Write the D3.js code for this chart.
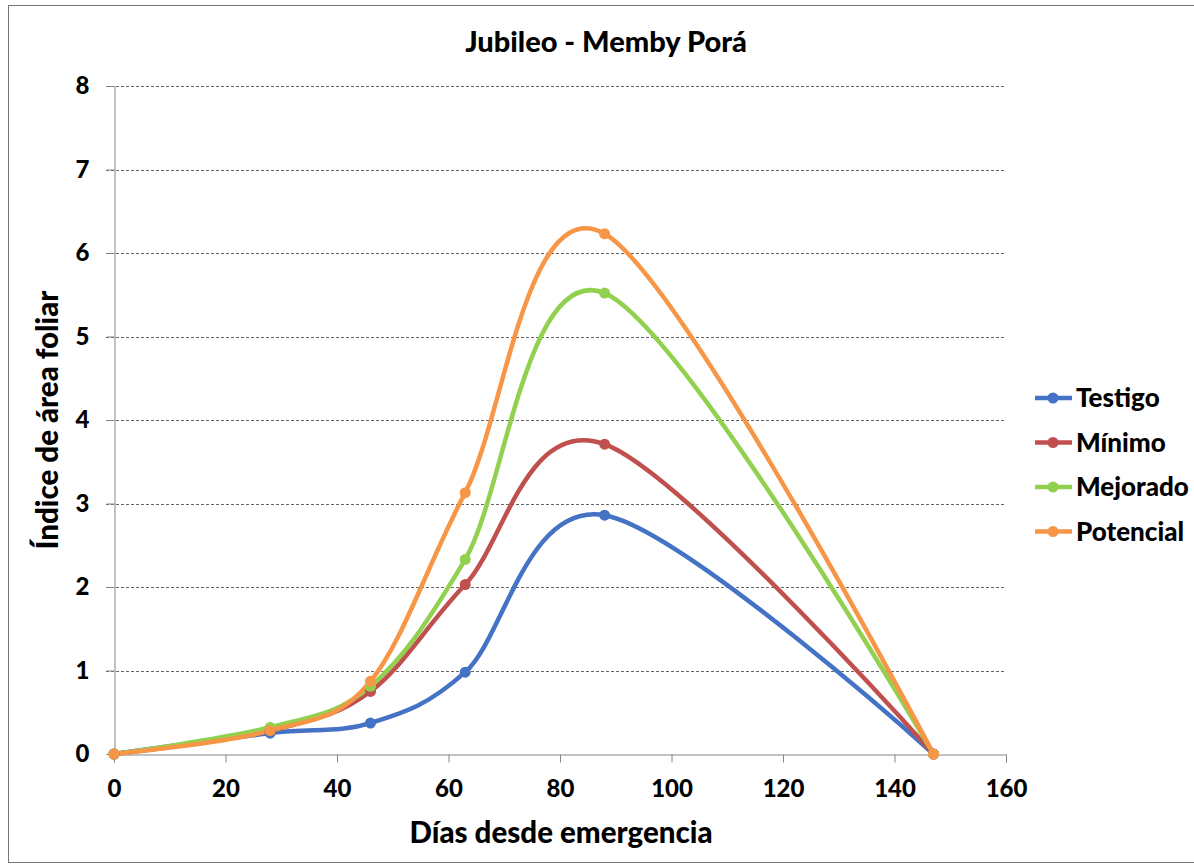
<!DOCTYPE html>
<html>
<head>
<meta charset="utf-8">
<script src="https://cdn.jsdelivr.net/npm/d3@7"></script>
<style>
  body { margin: 0; background: #fff; }
  text { font-family: Lato, "Open Sans", sans-serif; font-weight: 900; fill: #000; }
</style>
</head>
<body>
<svg width="1194" height="865"></svg>
<script>
const days = [0, 28, 46, 63, 88, 147];
const testigo = [0, 0.25, 0.37, 0.98, 2.86, 0];
const minimo = [0, 0.28, 0.75, 2.03, 3.71, 0];
const mejorado = [0, 0.32, 0.81, 2.33, 5.52, 0];
const potencial = [0, 0.28, 0.87, 3.13, 6.23, 0];
const seriesNames = ["Testigo", "Mínimo", "Mejorado", "Potencial"];
const xTicks = [0, 20, 40, 60, 80, 100, 120, 140, 160];
const yTicks = [0, 1, 2, 3, 4, 5, 6, 7, 8];

const colors = ["#4472C4", "#C0504D", "#92D050", "#F79646"];
const allSeries = [testigo, minimo, mejorado, potencial];

const svg = d3.select("svg");

// chart border
svg.append("rect")
  .attr("x", 8.5).attr("y", 5.5)
  .attr("width", 1190).attr("height", 857)
  .attr("fill", "none").attr("stroke", "#777").attr("stroke-width", 1);

// scales
const xScale = d3.scaleLinear().domain([0, 160]).range([114, 1006]);
const yScale = d3.scaleLinear().domain([0, 8]).range([754, 86]);

// gridlines
svg.append("g")
  .selectAll("line")
  .data(yTicks.slice(1))
  .enter()
  .append("line")
  .attr("x1", 106).attr("x2", xScale(160))
  .attr("y1", (d) => Math.round(yScale(d)) + 0.5)
  .attr("y2", (d) => Math.round(yScale(d)) + 0.5)
  .attr("stroke", "#666").attr("stroke-width", 1)
  .attr("stroke-dasharray", "3,2");

// y axis
const yAxis = d3.axisLeft(yScale).tickValues(yTicks).tickSize(8).tickPadding(17);
const yAxisG = svg.append("g").attr("transform", "translate(114.5,0)").call(yAxis);
yAxisG.select("path.domain").attr("stroke", "#868686");
yAxisG.selectAll(".tick line").attr("stroke", "#868686");
yAxisG.selectAll(".tick text").style("font-size", "24px").style("font-family", "Lato, sans-serif");

// x axis
const xAxis = d3.axisBottom(xScale).tickValues(xTicks).tickSize(8).tickPadding(17);
const xAxisG = svg.append("g").attr("transform", "translate(0,754.5)").call(xAxis);
xAxisG.select("path.domain").attr("stroke", "#868686");
xAxisG.selectAll(".tick line").attr("stroke", "#868686");
xAxisG.selectAll(".tick text").style("font-size", "24px").style("font-family", "Lato, sans-serif");

// lines
const line = d3.line()
  .x((d, i) => xScale(days[i]))
  .y((d) => yScale(d))
  .curve(d3.curveCatmullRom.alpha(0));

allSeries.forEach((values, k) => {
  svg.append("path")
    .datum(values)
    .attr("d", line)
    .attr("fill", "none")
    .attr("stroke", colors[k])
    .attr("stroke-width", 4.5)
    .attr("stroke-linejoin", "round");
});

allSeries.forEach((values, k) => {
  svg.append("g")
    .selectAll("circle")
    .data(values)
    .enter()
    .append("circle")
    .attr("r", 5.5)
    .attr("cx", (d, i) => xScale(days[i]))
    .attr("cy", (d) => yScale(d))
    .attr("fill", colors[k]);
});

// title
svg.append("text")
  .attr("x", 606).attr("y", 52)
  .attr("text-anchor", "middle")
  .style("font-size", "29px")
  .text("Jubileo - Memby Porá");

// axis titles
svg.append("text")
  .attr("x", 561).attr("y", 843)
  .attr("text-anchor", "middle")
  .style("font-size", "29.5px")
  .text("Días desde emergencia");

svg.append("text")
  .attr("transform", "translate(58,420) rotate(-90)")
  .attr("text-anchor", "middle")
  .style("font-size", "29.5px")
  .text("Índice de área foliar");

// legend
const legend = svg.append("g");
seriesNames.forEach((name, k) => {
  const y = 398 + k * 44.5;
  legend.append("line")
    .attr("x1", 1035).attr("x2", 1072)
    .attr("y1", y).attr("y2", y)
    .attr("stroke", colors[k]).attr("stroke-width", 4.5);
  legend.append("circle")
    .attr("cx", 1053).attr("cy", y).attr("r", 5.5)
    .attr("fill", colors[k]);
  legend.append("text")
    .attr("x", 1076).attr("y", y + 9)
    .style("font-size", "26px")
    .text(name);
});
</script>
</body>
</html>
